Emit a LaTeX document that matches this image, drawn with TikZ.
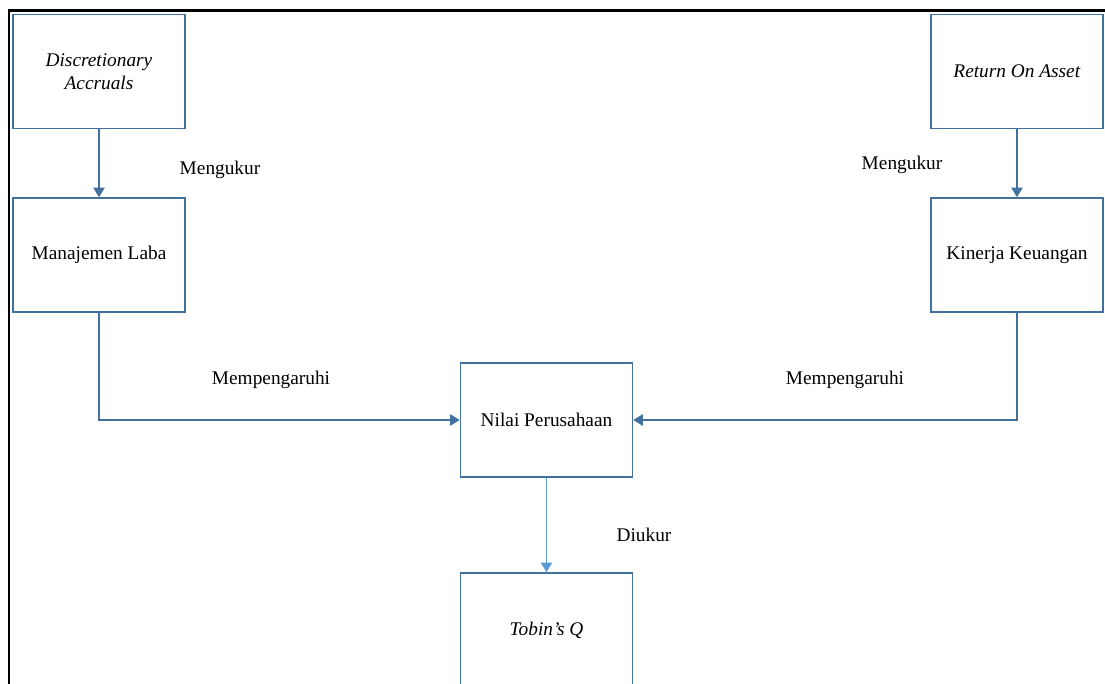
\documentclass[tikz,border=0pt]{standalone}
\usepackage{fontspec}
\setmainfont{Liberation Serif}
\usepackage{tikz}
\usetikzlibrary{arrows.meta}
\definecolor{boxblue}{HTML}{41719C}
\definecolor{lightblue}{HTML}{5B9BD5}
\tikzstyle{model}=[font=\fontsize{11}{13}\selectfont]
\tikzstyle{var}=[rectangle, draw=boxblue, line width=0.9pt, fill=white, minimum width=3.44cm, minimum height=2.28cm, align=center, inner sep=0pt]
\tikzstyle{edge}=[line width=0.9pt, draw=boxblue, -{Triangle[length=5.5pt, width=6.5pt]}]
\tikzstyle{ledge}=[edge, draw=lightblue]
\tikzstyle{edgeLabel}=[inner sep=1pt]
\tikzstyle{frame}=[-, line width=1.7pt]
\newcommand{\leftX}{1.98}
\newcommand{\midX}{10.93}
\newcommand{\rightX}{20.34}
\newcommand{\topY}{-1.43}
\newcommand{\secY}{-5.10}

\begin{document}
\begin{tikzpicture}[model]
	\useasboundingbox (0,0) rectangle (22.1,-13.68);
	\clip (0,0) rectangle (22.1,-13.68);
	\draw[frame] (0.18,-13.8) -- (0.18,-0.21) -- (22.2,-0.21);
	
	\draw (\leftX,\topY) node[var] (da) {\textit{Discretionary}\\\textit{Accruals}};
	\draw (\leftX,\secY) node[var] (ml) {Manajemen Laba};
	\draw (\rightX,\topY) node[var] (roa) {\textit{Return On Asset}};
	\draw (\rightX,\secY) node[var] (kk) {Kinerja Keuangan};
	\draw (\midX,-8.40) node[var] (np) {Nilai Perusahaan};
	\draw (\midX,-12.60) node[var] (tq) {\textit{Tobin’s Q}};
	%%
	\draw[edge] (da) -- (ml);
	\draw[edge] (roa) -- (kk);
	\draw[edge] (ml) |- (np);
	\draw[edge] (kk) |- (np);
	\draw[ledge] (np) -- (tq);
	%%
	\draw (4.40,-3.40) node[edgeLabel] (l1) {Mengukur};
	\draw (18.04,-3.30) node[edgeLabel] (l2) {Mengukur};
	\draw (5.42,-7.60) node[edgeLabel] (l3) {Mempengaruhi};
	\draw (16.90,-7.60) node[edgeLabel] (l4) {Mempengaruhi};
	\draw (12.88,-10.70) node[edgeLabel] (l5) {Diukur};
\end{tikzpicture}
\end{document}
